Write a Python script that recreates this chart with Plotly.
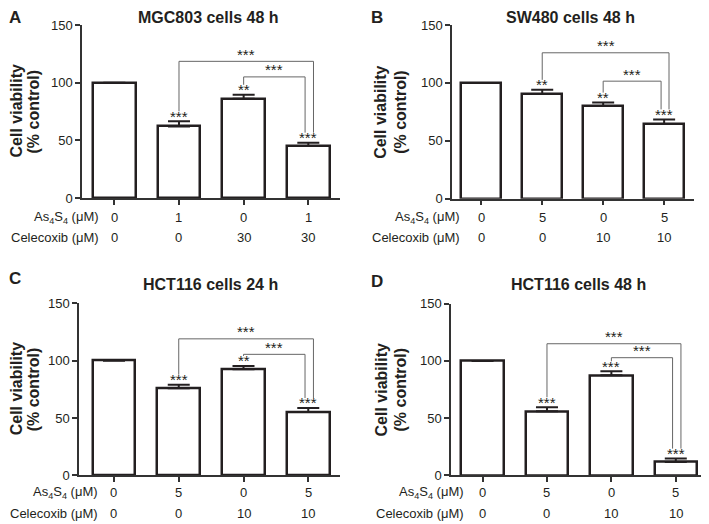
import plotly.graph_objects as go

W, H = 709, 524
OX, OY = 8, 8  # strona html ma margines 8px, przesuwamy wszystko
FONT = 'Arial, Liberation Sans, sans-serif'
INK = '#231f20'

# dane
letters = ['A', 'B', 'C', 'D']
titles = ['MGC803 cells 48 h', 'SW480 cells 48 h', 'HCT116 cells 24 h', 'HCT116 cells 48 h']
as4s4 = [['0', '1', '0', '1'], ['0', '5', '0', '5'], ['0', '5', '0', '5'], ['0', '5', '0', '5']]
celecoxib = [['0', '0', '30', '30'], ['0', '0', '10', '10'], ['0', '0', '10', '10'], ['0', '0', '10', '10']]

viab_a = [100, 62, 86, 45]
err_a = [None, 4.5, 3.5, 3]
viab_b = [100, 90.5, 80, 64.5]
err_b = [None, 3.5, 3, 4]
viab_c = [100, 76, 92.4, 55.2]
err_c = [None, 3, 3, 3.5]
viab_d = [100, 56, 87.4, 11.6]
err_d = [None, 3.5, 3.5, 3]

stars_a = ['', '***', '**', '***']
stars_b = ['', '**', '**', '***']
stars_c = ['', '***', '**', '***']
stars_d = ['', '***', '***', '***']

# wysokosci klamer: (1 vs 3), (2 vs 3)
big_bracket = [118.5, 126, 119, 115]
small_bracket = [105, 101.5, 105.5, 102.8]

values = [viab_a, viab_b, viab_c, viab_d]
errors = [err_a, err_b, err_c, err_d]
stars = [stars_a, stars_b, stars_c, stars_d]

# geometria paneli w pikselach strony: os x (lewo, prawo), os y (gora, dol), zakres x
panels = [
    dict(x0=82, x1=340, y0=25, y1=198, xr=[-0.5, 3.49], title_x=208, title_y=18, let_x=15, let_y=18,
         yt1=16, yt2=33, row1=218, row2=237, lab_x=100),
    dict(x0=452, x1=694, y0=25, y1=198.7, xr=[-0.48, 3.49], title_x=570, title_y=18, let_x=377, let_y=18,
         yt1=381, yt2=401, row1=218, row2=237, lab_x=461),
    dict(x0=79, x1=340, y0=303.3, y1=475.3, xr=[-0.54, 3.49], title_x=210, title_y=284, let_x=15, let_y=278,
         yt1=16, yt2=33, row1=492, row2=513, lab_x=99),
    dict(x0=451, x1=708, y0=303.7, y1=475.3, xr=[-0.49, 3.5], title_x=578, title_y=284, let_x=377, let_y=281,
         yt1=381, yt2=400, row1=492, row2=513, lab_x=465),
]


def px(x):
    return (x - OX) / W


def py(y):
    return 1 - (y - OY) / H


def note(x, y, text, size=13, xref='paper', yref='paper', xanchor='center', **kw):
    d = dict(x=x, y=y, xref=xref, yref=yref, text=text, showarrow=False, borderpad=0,
             xanchor=xanchor, yanchor='middle', font=dict(family=FONT, size=size, color=INK))
    d.update(kw)
    return d


fig = go.Figure()
annotations = []
shapes = []

for i, p in enumerate(panels):
    n = '' if i == 0 else str(i + 1)
    xa, ya = 'x' + n, 'y' + n
    fig.add_trace(go.Bar(
        x=[0, 1, 2, 3], y=values[i], width=0.66, xaxis=xa, yaxis=ya,
        marker=dict(color='white', line=dict(color=INK, width=2.5)),
        error_y=dict(type='data', array=errors[i], arrayminus=[0, 0, 0, 0], symmetric=False,
                     color=INK, thickness=2, width=11),
        showlegend=False, hoverinfo='skip'))

    fig.update_layout(**{
        'xaxis' + n: dict(domain=[px(p['x0']), px(p['x1'])], range=p['xr'], anchor=ya,
                          showline=True, linecolor='#333', linewidth=1.5, ticks='outside',
                          ticklen=5, tickwidth=1.5, tickcolor='#333', tickvals=[0, 1, 2, 3],
                          showticklabels=False, showgrid=False, zeroline=False, fixedrange=True),
        'yaxis' + n: dict(domain=[py(p['y1']), py(p['y0'])], range=[0, 150], anchor=xa,
                          showline=True, linecolor='#333', linewidth=1.5, ticks='outside',
                          ticklen=5, tickwidth=1.5, tickcolor='#333', tickvals=[0, 50, 100, 150],
                          tickfont=dict(family=FONT, size=13, color=INK),
                          showgrid=False, zeroline=False, fixedrange=True),
    })

    unit = (p['y1'] - p['y0']) / 150.0  # piksele na jednostke
    tops = [v + (e or 0) for v, e in zip(values[i], errors[i])]

    # gwiazdki nad slupkami
    for k in range(4):
        if stars[i][k]:
            annotations.append(note(k, tops[k], stars[i][k], size=15, xref=xa, yref=ya, yshift=5))

    gap = 10 / unit
    # klamry porownan
    for (a, b, lvl, off) in [(1, 3, big_bracket[i], 0.08), (2, 3, small_bracket[i], -0.05)]:
        xb = b + off
        path = 'M {},{} L {},{} L {},{} L {},{}'.format(
            a, tops[a] + gap, a, lvl, xb, lvl, xb, tops[b] + gap)
        shapes.append(dict(type='path', path=path, xref=xa, yref=ya,
                           line=dict(color='#666', width=1)))
        annotations.append(note((a + xb) / 2, lvl, '***', size=15, xref=xa, yref=ya, yshift=7))

    # tytul, litera, opis osi y
    annotations.append(note(px(p['title_x']), py(p['title_y']), '<b>' + titles[i] + '</b>', size=16))
    annotations.append(note(px(p['let_x']), py(p['let_y']), '<b>' + letters[i] + '</b>', size=17))
    yc = py((p['y0'] + p['y1']) / 2)
    annotations.append(note(px(p['yt1']), yc, '<b>Cell viability</b>', size=16, textangle=-90))
    annotations.append(note(px(p['yt2']), yc, '<b>(% control)</b>', size=16, textangle=-90))

    # tabelka pod osia
    annotations.append(note(px(p['lab_x']), py(p['row1']), 'As<sub>4</sub>S<sub>4</sub> (μM)', xanchor='right'))
    annotations.append(note(px(p['lab_x']), py(p['row2']), 'Celecoxib (μM)', xanchor='right'))
    for k in range(4):
        annotations.append(note(k, py(p['row1']), as4s4[i][k], xref=xa))
        annotations.append(note(k, py(p['row2']), celecoxib[i][k], xref=xa))

fig.update_layout(width=W, height=H, margin=dict(l=0, r=0, t=0, b=0, autoexpand=False),
                  paper_bgcolor='white', plot_bgcolor='white',
                  annotations=annotations, shapes=shapes, bargap=0)

fig.write_html('out.html')
